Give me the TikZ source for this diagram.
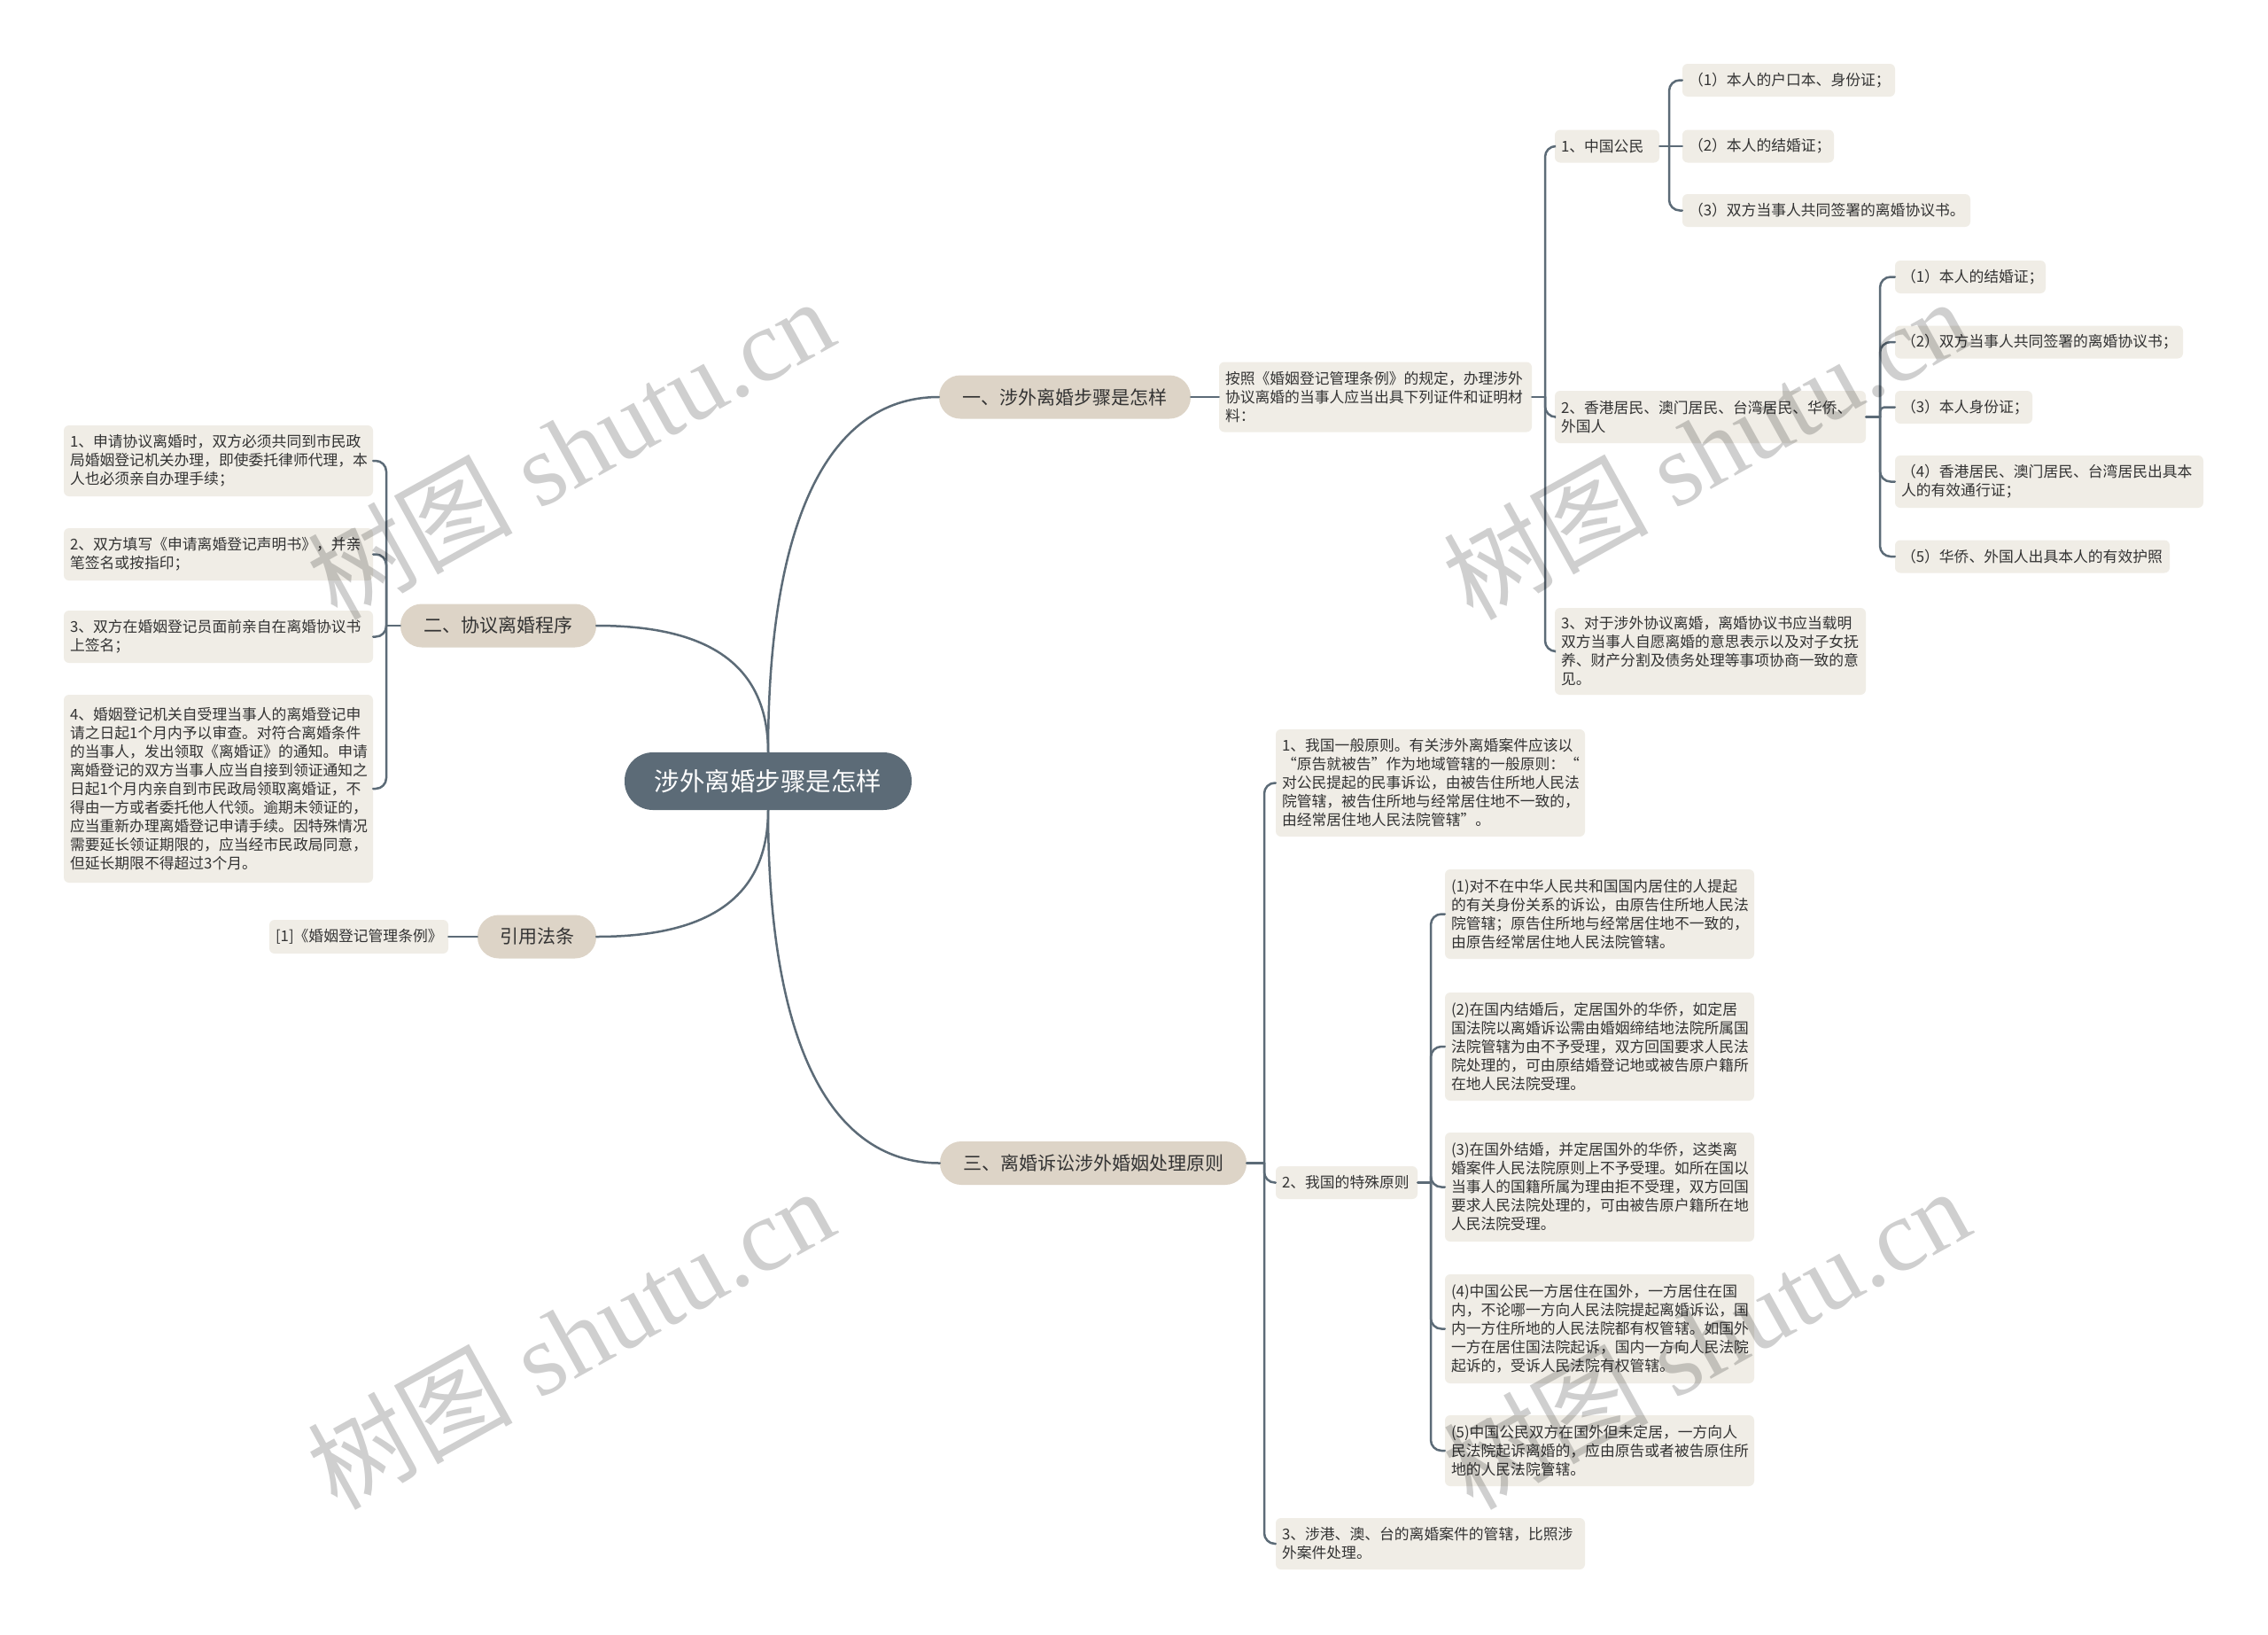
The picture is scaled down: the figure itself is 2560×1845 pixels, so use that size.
\documentclass[tikz,border=0pt]{standalone}
\usepackage{fontspec}
\newfontfamily\cjk{Noto Sans CJK SC}
\newfontfamily\wmserif{Liberation Serif}
\definecolor{rootc}{HTML}{5C6B77}
\definecolor{branchc}{HTML}{DDD4C7}
\definecolor{leafc}{HTML}{F0EDE6}
\definecolor{linec}{HTML}{5C6B77}
\definecolor{txt}{HTML}{333333}
\tikzset{
  rootnode/.style={fill=rootc, text=white, rounded corners=32pt, inner sep=0pt,
    font=\cjk\fontsize{28.5}{32}\selectfont, minimum height=65pt},
  branchnode/.style={fill=branchc, text=txt, rounded corners=24pt, inner sep=0pt,
    font=\cjk\fontsize{21}{25}\selectfont, minimum height=49pt},
  leaf/.style={fill=leafc, text=txt, rounded corners=6pt, align=left,
    inner xsep=7pt, inner ysep=0pt, font=\cjk\fontsize{16.8}{21}\selectfont},
  conn/.style={draw=linec, line width=2.5pt, line cap=round},
  bracket/.style={conn, rounded corners=12pt},
  wmark/.style={text=black, opacity=0.19, rotate=29, anchor=base west, inner sep=0pt}
}
\begin{document}
\begin{tikzpicture}[x=1pt,y=-1pt]
\fill[white] (0,0) rectangle (2560,1845);
\useasboundingbox (0,0) rectangle (2560,1845);

% root and branches
\node[rootnode, minimum width=324pt] (R) at (867,881.5) {涉外离婚步骤是怎样};
\node[branchnode, minimum width=284pt] (B1) at (1202,448) {一、涉外离婚步骤是怎样};
\node[branchnode, minimum width=221pt] (B2) at (562.5,706) {二、协议离婚程序};
\node[branchnode, minimum width=134pt] (B3) at (606,1057) {引用法条};
\node[branchnode, minimum width=346pt] (B4) at (1234,1312.5) {三、离婚诉讼涉外婚姻处理原则};

% left leaves
\node[leaf, text width=335pt, minimum height=80pt] (L1) at (246.5,520) {1、申请协议离婚时，双方必须共同到市民政\\局婚姻登记机关办理，即使委托律师代理，本\\人也必须亲自办理手续；};
\node[leaf, text width=335pt, minimum height=59pt] (L2) at (246.5,625.5) {2、双方填写《申请离婚登记声明书》，并亲\\笔签名或按指印；};
\node[leaf, text width=335pt, minimum height=59pt] (L3) at (246.5,718.5) {3、双方在婚姻登记员面前亲自在离婚协议书\\上签名；};
\node[leaf, text width=335pt, minimum height=212pt] (L4) at (246.5,890) {4、婚姻登记机关自受理当事人的离婚登记申\\请之日起1个月内予以审查。对符合离婚条件\\的当事人，发出领取《离婚证》的通知。申请\\离婚登记的双方当事人应当自接到领证通知之\\日起1个月内亲自到市民政局领取离婚证，不\\得由一方或者委托他人代领。逾期未领证的，\\应当重新办理离婚登记申请手续。因特殊情况\\需要延长领证期限的，应当经市民政局同意，\\但延长期限不得超过3个月。};
\node[leaf, text width=188pt, minimum height=38pt] (Ref) at (405,1057) {[1]《婚姻登记管理条例》};

% branch 1 subtree
\node[leaf, text width=339pt, minimum height=79pt] (A) at (1552.5,448) {按照《婚姻登记管理条例》的规定，办理涉外\\协议离婚的当事人应当出具下列证件和证明材\\料：};
\node[leaf, text width=104pt, minimum height=37pt] (A1) at (1814,165) {1、中国公民};
\node[leaf, text width=226pt, minimum height=37pt] (a) at (2019,90.5) {（1）本人的户口本、身份证；};
\node[leaf, text width=157pt, minimum height=37pt] (b) at (1984.5,165) {（2）本人的结婚证；};
\node[leaf, text width=311pt, minimum height=37pt] (c) at (2061.5,237.5) {（3）双方当事人共同签署的离婚协议书。};
\node[leaf, text width=337pt, minimum height=59pt] (A2) at (1930.5,470.5) {2、香港居民、澳门居民、台湾居民、华侨、\\外国人};
\node[leaf, text width=156pt, minimum height=37pt] (d) at (2224,312.5) {（1）本人的结婚证；};
\node[leaf, text width=311pt, minimum height=37pt] (e) at (2301.5,386) {（2）双方当事人共同签署的离婚协议书；};
\node[leaf, text width=141pt, minimum height=37pt] (f) at (2216.5,459.5) {（3）本人身份证；};
\node[leaf, text width=334pt, minimum height=59pt] (g) at (2313,543.5) {（4）香港居民、澳门居民、台湾居民出具本\\人的有效通行证；};
\node[leaf, text width=296pt, minimum height=37pt] (h) at (2294,628) {（5）华侨、外国人出具本人的有效护照};
\node[leaf, text width=337pt, minimum height=98pt] (A3) at (1930.5,735) {3、对于涉外协议离婚，离婚协议书应当载明\\双方当事人自愿离婚的意思表示以及对子女抚\\养、财产分割及债务处理等事项协商一致的意\\见。};

% branch 3 subtree
\node[leaf, text width=335pt, minimum height=121pt] (C1) at (1614.5,883.5) {1、我国一般原则。有关涉外离婚案件应该以\\“原告就被告”作为地域管辖的一般原则：“\\对公民提起的民事诉讼，由被告住所地人民法\\院管辖，被告住所地与经常居住地不一致的，\\由经常居住地人民法院管辖”。};
\node[leaf, text width=146pt, minimum height=37pt] (C2) at (1520,1334.5) {2、我国的特殊原则};
\node[leaf, text width=335pt, minimum height=58pt] (C3) at (1614.5,1742) {3、涉港、澳、台的离婚案件的管辖，比照涉\\外案件处理。};
\node[leaf, text width=335pt, minimum height=101pt] (k1) at (1805.5,1031.5) {(1)对不在中华人民共和国国内居住的人提起\\的有关身份关系的诉讼，由原告住所地人民法\\院管辖；原告住所地与经常居住地不一致的，\\由原告经常居住地人民法院管辖。};
\node[leaf, text width=335pt, minimum height=122pt] (k2) at (1805.5,1181) {(2)在国内结婚后，定居国外的华侨，如定居\\国法院以离婚诉讼需由婚姻缔结地法院所属国\\法院管辖为由不予受理，双方回国要求人民法\\院处理的，可由原结婚登记地或被告原户籍所\\在地人民法院受理。};
\node[leaf, text width=335pt, minimum height=123pt] (k3) at (1805.5,1339.5) {(3)在国外结婚，并定居国外的华侨，这类离\\婚案件人民法院原则上不予受理。如所在国以\\当事人的国籍所属为理由拒不受理，双方回国\\要求人民法院处理的，可由被告原户籍所在地\\人民法院受理。};
\node[leaf, text width=335pt, minimum height=123pt] (k4) at (1805.5,1499.5) {(4)中国公民一方居住在国外，一方居住在国\\内，不论哪一方向人民法院提起离婚诉讼，国\\内一方住所地的人民法院都有权管辖。如国外\\一方在居住国法院起诉，国内一方向人民法院\\起诉的，受诉人民法院有权管辖。};
\node[leaf, text width=335pt, minimum height=80pt] (k5) at (1805.5,1637) {(5)中国公民双方在国外但未定居，一方向人\\民法院起诉离婚的，应由原告或者被告原住所\\地的人民法院管辖。};

% connectors from root
\draw[conn] (R.north) .. controls +(0,-250) and +(-130,0) .. (B1.west);
\draw[conn] (R.north) .. controls +(0,-110) and +(110,0) .. (B2.east);
\draw[conn] (R.south) .. controls +(0,110) and +(110,0) .. (B3.east);
\draw[conn] (R.south) .. controls +(0,250) and +(-130,0) .. (B4.west);

\draw[conn] (B1.east) -- (A.west);
\draw[conn] (B3.west) -- (Ref.east);

\coordinate (sL) at (436,706);
\draw[conn] (B2.west) -- (sL);
\foreach \n in {L1,L2,L3,L4} \draw[bracket] (sL) |- (\n.east);

\coordinate (sA) at (1744,448);
\draw[conn] (A.east) -- (sA);
\foreach \n in {A1,A2,A3} \draw[bracket] (sA) |- (\n.west);

\coordinate (sA1) at (1884,165);
\draw[conn] (A1.east) -- (b.west);
\foreach \n in {a,c} \draw[bracket] (sA1) |- (\n.west);

\coordinate (sA2) at (2122,470.5);
\draw[conn] (A2.east) -- (sA2);
\foreach \n in {d,e,g,h} \draw[bracket] (sA2) |- (\n.west);
\draw[conn, rounded corners=5pt] (sA2) |- (f.west);

\coordinate (sB4) at (1427,1312.5);
\draw[conn] (B4.east) -- (sB4);
\foreach \n in {C1,C2,C3} \draw[bracket] (sB4) |- (\n.west);

\coordinate (sC2) at (1615,1334.5);
\draw[conn] (C2.east) -- (sC2);
\foreach \n in {k1,k2,k3,k4,k5} \draw[bracket] (sC2) |- (\n.west);

% watermarks
\foreach \wx/\wy in {380/702, 1662/702, 380/1706, 1662/1706}
  \node[wmark] at (\wx,\wy) {\cjk\fontsize{116}{120}\selectfont 树图\wmserif\ shutu.cn};
\end{tikzpicture}
\end{document}
